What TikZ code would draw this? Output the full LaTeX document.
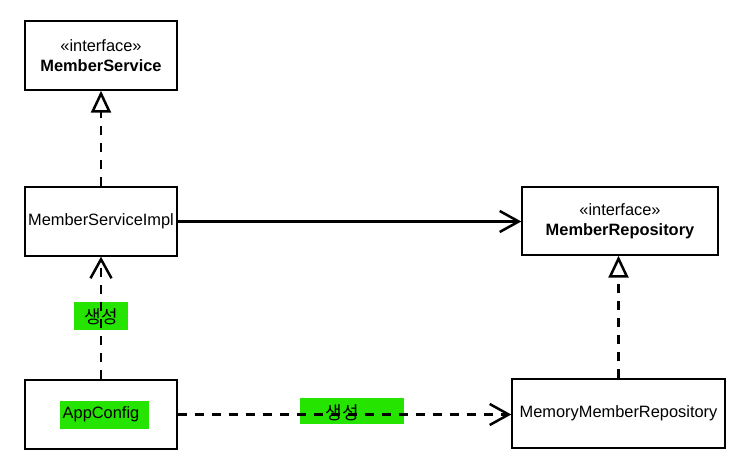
\documentclass[tikz,border=0pt]{standalone}
\usepackage{fontspec}
\setmainfont{Liberation Sans}
\newfontfamily\krfont{Noto Sans CJK KR}
\usetikzlibrary{arrows.meta,calc}
\definecolor{hlgreen}{RGB}{36,228,0}
\tikzset{
  umlbox/.style={draw=black, line width=1.4pt, fill=white, minimum width=152pt, minimum height=69pt, inner sep=0pt, align=center, font=\fontsize{16.4}{20}\selectfont},
  conn/.style={line width=2.5pt, black},
  dashconn/.style={conn, dash pattern=on 9pt off 8pt},
  realize/.style={-{Triangle[open, length=22pt, width=20pt, line width=2.5pt]}},
  depend/.style={-{Straight Barb[length=19pt, width=21pt, line width=2.5pt]}},
  hl/.style={fill=hlgreen, draw=none, inner sep=0pt},
  lbl/.style={font=\fontsize{16.4}{20}\selectfont, inner sep=0pt},
  krlbl/.style={font=\krfont\fontsize{18}{20}\selectfont, inner sep=0pt},
}
\begin{document}
\begin{tikzpicture}[x=1pt, y=-1pt]
\useasboundingbox (0,0) rectangle (748,468);
% highlights
\node[hl, minimum width=54pt, minimum height=28pt] (hlv) at (101,316) {};
\node[hl, minimum width=104pt, minimum height=26pt] (hlh) at (352,411) {};
% boxes
\node[umlbox] (ms) at (101,55.5) {«interface»\\\textbf{MemberService}};
\node[umlbox] (impl) at (101,221.5) {MemberServiceImpl};
\node[umlbox] (app) at (101,414.5) {};
\node[umlbox, minimum width=196pt, minimum height=68pt] (mr) at (620,221) {«interface»\\\textbf{MemberRepository}};
\node[umlbox, minimum width=213pt, minimum height=69pt] (mmr) at (618.5,413.5) {MemoryMemberRepository};
\node[hl, minimum width=89pt, minimum height=28pt] (hla) at (104.5,415) {};
\node[lbl] (applbl) at (101,414.5) {AppConfig};
% connectors
\draw[dashconn, realize] (impl.north) -- (ms.south);
\draw[conn, depend] (impl.east) -- (impl.east -| mr.west);
\draw[dashconn, depend] (app.north) -- (impl.south);
\draw[dashconn, depend] (app.east) -- (app.east -| mmr.west);
\draw[dashconn, realize] (mmr.north) -- (mmr.north |- mr.south);
% labels
\node[krlbl] (lv) at (101,317) {생성};
\node[krlbl] (lh) at (342.5,413) {생성};
\end{tikzpicture}
\end{document}
